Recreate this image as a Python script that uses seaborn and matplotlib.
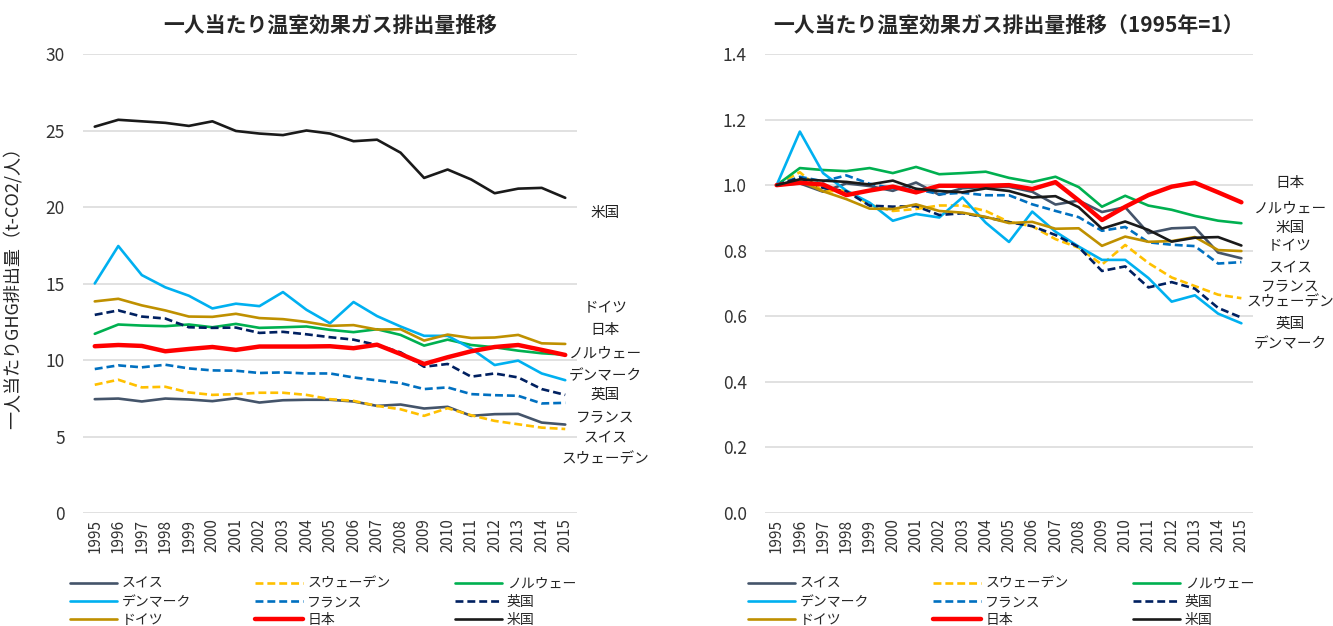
import matplotlib
matplotlib.use("Agg")
import matplotlib.pyplot as plt
import matplotlib.transforms as mtransforms
from matplotlib.lines import Line2D
import numpy as np
import pandas as pd
import seaborn as sns

# ---------------- data ----------------
years = list(range(1995, 2016))

switzerland = [7.44, 7.48, 7.29, 7.48, 7.42, 7.31, 7.50, 7.22, 7.37, 7.40, 7.40,
               7.29, 7.00, 7.09, 6.83, 6.94, 6.35, 6.46, 6.48, 5.91, 5.78]
sweden = [8.38, 8.71, 8.21, 8.25, 7.88, 7.72, 7.77, 7.86, 7.86, 7.72, 7.44,
          7.33, 7.00, 6.78, 6.35, 6.85, 6.39, 6.02, 5.80, 5.58, 5.49]
norway = [11.71, 12.32, 12.25, 12.21, 12.32, 12.14, 12.36, 12.10, 12.14, 12.19, 11.97,
          11.82, 12.01, 11.64, 10.94, 11.33, 10.98, 10.83, 10.61, 10.44, 10.35]
denmark = [15.00, 17.45, 15.55, 14.75, 14.20, 13.37, 13.68, 13.52, 14.44, 13.28, 12.40,
           13.79, 12.87, 12.19, 11.58, 11.58, 10.75, 9.67, 9.96, 9.12, 8.68]
france = [9.41, 9.65, 9.52, 9.69, 9.45, 9.32, 9.30, 9.15, 9.19, 9.12, 9.12,
          8.86, 8.67, 8.49, 8.10, 8.21, 7.77, 7.70, 7.66, 7.16, 7.20]
uk = [12.95, 13.24, 12.84, 12.71, 12.14, 12.10, 12.12, 11.77, 11.84, 11.68, 11.49,
      11.33, 10.98, 10.50, 9.56, 9.74, 8.91, 9.12, 8.86, 8.10, 7.72]
germany = [13.83, 14.00, 13.57, 13.24, 12.84, 12.82, 13.02, 12.74, 12.67, 12.49, 12.23,
           12.28, 11.99, 12.01, 11.27, 11.66, 11.44, 11.47, 11.64, 11.09, 11.05]
japan = [10.90, 10.98, 10.92, 10.57, 10.72, 10.85, 10.66, 10.88, 10.88, 10.88, 10.90,
         10.77, 11.00, 10.39, 9.74, 10.18, 10.57, 10.85, 10.98, 10.66, 10.33]
usa = [25.25, 25.70, 25.60, 25.50, 25.30, 25.60, 24.97, 24.80, 24.70, 25.00, 24.80,
       24.30, 24.40, 23.55, 21.90, 22.45, 21.80, 20.90, 21.20, 21.25, 20.60]

countries = ["スイス", "スウェーデン", "ノルウェー", "デンマーク", "フランス", "英国",
             "ドイツ", "日本", "米国"]
series = [switzerland, sweden, norway, denmark, france, uk, germany, japan, usa]

title_left = "一人当たり温室効果ガス排出量推移"
title_right = "一人当たり温室効果ガス排出量推移（1995年=1）"
ylabel_left = "一人当たりGHG排出量（t-CO2/人）"

# ---------------- styles ----------------
colors = {"スイス": "#44546A", "スウェーデン": "#FFC000", "ノルウェー": "#00B050",
          "デンマーク": "#00B0F0", "フランス": "#0070C0", "英国": "#002060",
          "ドイツ": "#BF9000", "日本": "#FF0000", "米国": "#1A1A1A"}
dash_pat = (3, 1.5)
dashes = {c: (dash_pat if c in ("スウェーデン", "フランス", "英国") else "") for c in countries}
widths = {c: (3.2 if c == "日本" else 1.9) for c in countries}

rows = []
for c, vals in zip(countries, series):
    for y, v in zip(years, vals):
        rows.append({"year": y, "country": c, "value": v})
df = pd.DataFrame(rows)
df["index"] = df["value"] / df.groupby("country")["value"].transform("first")

sns.set_theme(style="white")
plt.rcParams["font.family"] = ["Noto Sans CJK JP", "DejaVu Sans"]

fig = plt.figure(figsize=(13.33, 6.26), dpi=100)
ax1 = fig.add_axes([83 / 1333, 1 - 513 / 626, 494 / 1333, 459 / 626])
ax2 = fig.add_axes([765 / 1333, 1 - 513 / 626, 488 / 1333, 459 / 626])

for ax, col in ((ax1, "value"), (ax2, "index")):
    sns.lineplot(data=df, x="year", y=col, hue="country", style="country", size="country",
                 hue_order=countries, style_order=countries, size_order=countries,
                 palette=colors, dashes=dashes, sizes=widths, ax=ax, legend=False)
    ax.set_xlim(1994.5, 2015.5)
    ax.set_xticks(years)
    ax.set_xticklabels([str(y) for y in years], rotation=90, fontsize=11)
    ax.tick_params(axis="x", length=0, pad=4)
    ax.tick_params(axis="y", length=0, pad=13, labelsize=12.5)
    ax.yaxis.grid(True, color="#D9D9D9", linewidth=1.1)
    ax.xaxis.grid(False)
    ax.set_axisbelow(True)
    for s in ax.spines.values():
        s.set_visible(False)
    ax.set_xlabel("")
    ax.set_ylabel("")
    for t in ax.get_xticklabels() + ax.get_yticklabels():
        t.set_color("#333333")

ax1.set_ylim(0, 30)
ax1.set_yticks(range(0, 31, 5))
ax2.set_ylim(0, 1.4)
ax2.set_yticks(np.arange(0, 1.41, 0.2))
ax2.set_yticklabels([f"{v:.1f}" for v in np.arange(0, 1.41, 0.2)])

ax1.set_title(title_left, fontsize=15, fontweight="bold", pad=16)
ax2.set_title(title_right, fontsize=15, fontweight="bold", pad=16)
ax1.set_ylabel(ylabel_left, fontsize=13)
ax1.yaxis.set_label_coords(-0.125, 0.5)

# end labels
left_labels = {"米国": 19.6, "ドイツ": 13.4, "日本": 11.95, "ノルウェー": 10.45,
               "デンマーク": 8.95, "英国": 7.7, "フランス": 6.3, "スイス": 4.9,
               "スウェーデン": 3.5}
right_labels = {"日本": 1.006, "ノルウェー": 0.93, "米国": 0.869, "ドイツ": 0.814,
                "スイス": 0.75, "フランス": 0.692, "スウェーデン": 0.643,
                "英国": 0.576, "デンマーク": 0.515}
tr1 = mtransforms.blended_transform_factory(ax1.transAxes, ax1.transData)
for name, yv in left_labels.items():
    ax1.text(1.057, yv, name, transform=tr1, ha="center", va="center", fontsize=10.5,
             color="#222222", clip_on=False)
tr2 = mtransforms.blended_transform_factory(ax2.transAxes, ax2.transData)
for name, yv in right_labels.items():
    ax2.text(1.076, yv, name, transform=tr2, ha="center", va="center", fontsize=10.5,
             color="#222222", clip_on=False)

# legends (row-major order like the original)
order = ["スイス", "デンマーク", "ドイツ", "スウェーデン", "フランス", "日本",
         "ノルウェー", "英国", "米国"]
def handles():
    hs = []
    for c in order:
        ls = (0, dash_pat) if dashes[c] else "-"
        hs.append(Line2D([0], [0], color=colors[c], lw=widths[c], linestyle=ls))
    return hs

for xpos in (70 / 1333, 748 / 1333):
    fig.legend(handles(), order, loc="upper left", bbox_to_anchor=(xpos, 1 - 577 / 626),
               ncol=3, frameon=False, fontsize=10, handlelength=3.4, handletextpad=0.35,
               columnspacing=4.6, labelspacing=0.3, borderpad=0, borderaxespad=0)

fig.savefig("out.png", dpi=100)
